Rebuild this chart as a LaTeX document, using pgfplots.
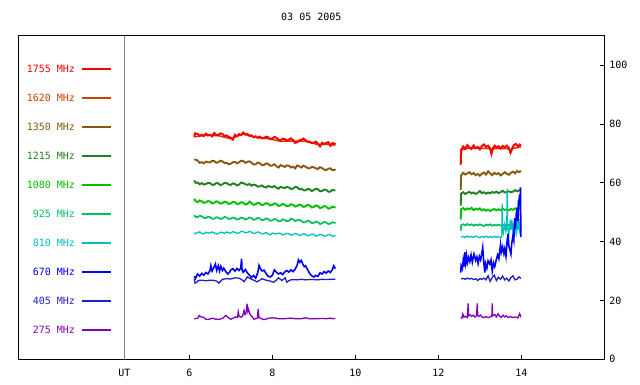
\documentclass[border=0pt]{standalone}
\usepackage{fontspec}
\setmainfont{DejaVu Sans Mono}
\usepackage{pgfplots}
\pgfplotsset{compat=1.18}
\definecolor{c1755}{RGB}{255,0,0}
\definecolor{c1620}{RGB}{204,64,0}
\definecolor{c1350}{RGB}{136,90,16}
\definecolor{c1215}{RGB}{34,128,34}
\definecolor{c1080}{RGB}{0,192,0}
\definecolor{c925}{RGB}{0,192,96}
\definecolor{c810}{RGB}{0,192,192}
\definecolor{c670}{RGB}{0,0,255}
\definecolor{c405}{RGB}{32,32,192}
\definecolor{c275}{RGB}{128,0,192}
\begin{document}
\begin{tikzpicture}
\begin{axis}[
  name=ax, scale only axis, width=586pt, height=323.6pt,
  xmin=1.88, xmax=16, ymin=0, ymax=110,
  unbounded coords=jump,
  font=\fontsize{10}{12}\selectfont,
  /pgf/number format/assume math mode=true,
  axis line style={line width=0.8pt},
  xtick={6,8,10,12,14}, xtick pos=bottom,
  ytick={0,20,40,60,80,100}, ytick pos=right, yticklabel pos=right,
  tick align=inside, major tick length=4.5pt,
  tick style={black, line width=0.8pt},
  xticklabel style={yshift=-6pt},
  yticklabel style={xshift=1.5pt},
  extra x ticks={4.434}, extra x tick labels={UT},
  extra x tick style={grid=major, major grid style={gray, line width=1pt}, major tick length=0pt},
  title={03 05 2005},
  title style={at={(0.5,1)}, anchor=center, yshift=12.4pt, inner sep=0pt},
  legend plot pos=right,
  legend image code/.code={\fill[#1] (0pt,-0.65pt) rectangle (28.7pt,0.65pt);},
  legend style={draw=none, fill=none, inner sep=0pt, outer sep=0pt,
    at={(axis cs:4.107,100.04)}, anchor=north east,
    row sep={29pt,between origins}, column sep=6.7pt,
    nodes={inner sep=0pt, text height=7pt, text depth=0pt},
    font=\fontsize{10}{12}\selectfont},
  legend cell align=right,
]
\addlegendimage{color=c1755}\addlegendentry{\textcolor{c1755}{1755 MHz}}
\addlegendimage{color=c1620}\addlegendentry{\textcolor{c1620}{1620 MHz}}
\addlegendimage{color=c1350}\addlegendentry{\textcolor{c1350}{1350 MHz}}
\addlegendimage{color=c1215}\addlegendentry{\textcolor{c1215}{1215 MHz}}
\addlegendimage{color=c1080}\addlegendentry{\textcolor{c1080}{1080 MHz}}
\addlegendimage{color=c925}\addlegendentry{\textcolor{c925}{925 MHz}}
\addlegendimage{color=c810}\addlegendentry{\textcolor{c810}{810 MHz}}
\addlegendimage{color=c670}\addlegendentry{\textcolor{c670}{670 MHz}}
\addlegendimage{color=c405}\addlegendentry{\textcolor{c405}{405 MHz}}
\addlegendimage{color=c275}\addlegendentry{\textcolor{c275}{275 MHz}}

% 1620 MHz (mostly hidden under 1755)
\addplot[c1620, line width=1.5pt, forget plot] coordinates {
(6.12,75.6)(6.4,76.2)(6.7,76.0)(7.0,75.0)(7.3,76.6)(7.6,75.4)(7.9,75.0)(8.2,74.1)(8.5,74.2)(8.8,74.1)(9.1,73.0)(9.3,73.1)(9.52,72.8)
(11,nan)
(12.54,66.0)(12.56,71.2)(12.75,71.8)(12.95,71.8)(13.25,71.6)(13.28,69.6)(13.31,71.6)(13.5,71.6)(13.7,71.6)(13.74,70.0)(13.78,71.6)(13.99,72.2)};
% 1755 MHz
\addplot[c1755, line width=2pt, forget plot] coordinates {
(6.12,75.6)(6.14,76.8)(6.2,76.6)(6.25,76.0)(6.3,76.3)(6.35,75.9)(6.4,76.7)(6.45,76.1)(6.5,76.3)(6.55,75.8)(6.6,76.9)(6.65,76.2)(6.7,76.2)(6.75,76.8)(6.8,76.6)(6.85,75.9)(6.9,76.1)(6.95,75.6)(7.0,75.3)(7.05,74.7)(7.1,76.3)(7.15,75.8)(7.2,76.5)(7.25,76.2)(7.3,77.1)(7.35,76.4)(7.4,76.6)(7.45,76.0)(7.5,76.1)(7.55,75.5)(7.6,75.8)(7.65,75.3)(7.7,75.7)(7.75,75.1)(7.8,75.2)(7.85,75.7)(7.9,75.5)(7.95,74.9)(8.0,75.0)(8.05,75.6)(8.1,75.3)(8.15,74.6)(8.2,74.4)(8.25,75.0)(8.3,74.9)(8.35,74.3)(8.4,74.7)(8.45,75.1)(8.5,74.5)(8.55,73.6)(8.6,73.8)(8.65,74.4)(8.7,74.6)(8.75,75.0)(8.8,74.5)(8.85,74.0)(8.9,74.0)(8.95,73.5)(9.0,73.6)(9.05,74.0)(9.1,73.3)(9.15,72.4)(9.2,73.6)(9.25,73.2)(9.3,73.5)(9.35,73.8)(9.4,72.6)(9.45,73.5)(9.5,73.3)(9.52,73.0)
(11,nan)
(12.54,66.4)(12.55,71.2)(12.6,72.3)(12.65,71.6)(12.7,72.8)(12.75,72.0)(12.8,71.5)(12.85,72.7)(12.9,71.8)(12.95,72.2)(13.0,71.4)(13.05,72.5)(13.1,73.0)(13.15,72.2)(13.2,72.6)(13.25,71.6)(13.28,70.0)(13.32,71.8)(13.36,72.6)(13.4,72.0)(13.45,72.4)(13.5,71.7)(13.55,72.5)(13.6,72.1)(13.65,72.6)(13.7,71.8)(13.74,70.4)(13.78,71.6)(13.82,72.8)(13.87,73.2)(13.92,72.4)(13.96,73.0)(13.99,72.6)};
% 1350 MHz
\addplot[c1350, line width=1.9pt, forget plot] coordinates {
(6.12,68.0)(6.2,67.6)(6.25,66.8)(6.3,67.0)(6.35,66.6)(6.4,67.2)(6.45,67.0)(6.5,66.9)(6.55,67.5)(6.6,67.4)(6.65,66.8)(6.7,67.0)(6.75,67.5)(6.8,67.3)(6.85,66.7)(6.9,66.8)(6.95,66.3)(7.0,66.5)(7.05,67.0)(7.1,67.1)(7.15,66.6)(7.2,67.0)(7.25,67.5)(7.3,67.4)(7.35,66.8)(7.4,67.1)(7.45,67.3)(7.5,66.8)(7.55,66.2)(7.6,66.3)(7.65,66.9)(7.7,66.6)(7.75,66.1)(7.8,66.0)(7.85,66.6)(7.9,66.4)(7.95,65.8)(8.0,65.9)(8.05,66.3)(8.1,65.6)(8.15,65.2)(8.2,66.0)(8.25,65.7)(8.3,65.4)(8.35,65.9)(8.4,65.8)(8.45,65.2)(8.5,65.5)(8.55,64.9)(8.6,65.9)(8.65,65.6)(8.7,65.2)(8.75,65.8)(8.8,65.5)(8.85,65.0)(8.9,64.9)(8.95,65.4)(9.0,65.3)(9.05,64.9)(9.1,64.7)(9.15,65.3)(9.2,65.0)(9.25,64.5)(9.3,64.3)(9.35,64.8)(9.4,64.9)(9.45,64.3)(9.5,64.4)(9.52,64.7)
(11,nan)
(12.54,57.5)(12.55,62.5)(12.6,63.4)(12.65,62.8)(12.7,63.2)(12.75,63.6)(12.8,62.9)(12.85,63.3)(12.9,62.6)(12.95,63.0)(13.0,62.4)(13.05,63.1)(13.1,63.5)(13.15,62.8)(13.2,63.9)(13.25,63.2)(13.3,62.6)(13.35,63.4)(13.4,62.9)(13.45,63.3)(13.5,62.5)(13.55,63.0)(13.6,63.6)(13.65,63.1)(13.7,62.7)(13.75,63.4)(13.8,63.8)(13.85,63.2)(13.9,64.0)(13.95,63.6)(13.99,64.1)};
% 1215 MHz
\addplot[c1215, line width=1.9pt, forget plot] coordinates {
(6.12,60.8)(6.15,60.0)(6.2,60.1)(6.25,59.5)(6.3,59.9)(6.35,59.4)(6.4,59.6)(6.45,60.0)(6.5,59.9)(6.55,59.3)(6.6,59.4)(6.65,59.9)(6.7,59.8)(6.75,59.2)(6.8,59.5)(6.85,60.0)(6.9,59.9)(6.95,59.4)(7.0,59.3)(7.05,59.8)(7.1,59.6)(7.15,59.1)(7.2,59.4)(7.25,60.1)(7.3,59.9)(7.35,59.5)(7.4,59.3)(7.45,59.6)(7.5,59.0)(7.55,59.4)(7.6,59.2)(7.65,58.7)(7.7,58.8)(7.75,59.1)(7.8,58.6)(7.85,58.4)(7.9,58.9)(7.95,58.7)(8.0,58.5)(8.05,58.9)(8.1,58.3)(8.15,58.0)(8.2,58.6)(8.25,58.4)(8.3,58.2)(8.35,58.6)(8.4,58.4)(8.45,57.9)(8.5,58.0)(8.55,58.6)(8.6,58.5)(8.65,57.8)(8.7,58.0)(8.75,57.5)(8.8,57.4)(8.85,57.9)(8.9,57.8)(8.95,57.2)(9.0,57.5)(9.05,58.0)(9.1,57.8)(9.15,57.1)(9.2,57.2)(9.25,57.7)(9.3,57.6)(9.35,57.0)(9.4,57.0)(9.45,57.6)(9.5,57.4)(9.52,57.5)
(11,nan)
(12.54,52.2)(12.55,56.3)(12.6,56.8)(12.65,56.2)(12.7,56.6)(12.75,56.9)(12.8,56.4)(12.85,56.7)(12.9,56.2)(12.95,56.6)(13.0,57.2)(13.05,56.5)(13.1,56.8)(13.15,56.3)(13.2,56.7)(13.25,56.4)(13.3,56.9)(13.35,56.6)(13.4,57.0)(13.45,56.5)(13.5,56.8)(13.55,57.3)(13.6,56.7)(13.65,56.9)(13.7,57.1)(13.75,56.8)(13.8,57.0)(13.85,57.5)(13.9,57.1)(13.95,57.4)(13.99,57.8)};
% 1080 MHz
\addplot[c1080, line width=1.9pt, forget plot] coordinates {
(6.12,54.6)(6.15,53.8)(6.2,53.4)(6.25,54.0)(6.3,53.7)(6.35,53.2)(6.4,53.3)(6.45,53.8)(6.5,53.6)(6.55,53.0)(6.6,53.2)(6.65,53.7)(6.7,53.5)(6.75,52.9)(6.8,53.1)(6.85,53.6)(6.9,53.4)(6.95,52.8)(7.0,53.0)(7.05,53.5)(7.1,53.4)(7.15,52.8)(7.2,52.9)(7.25,53.4)(7.3,53.2)(7.35,52.6)(7.4,52.8)(7.45,53.6)(7.5,53.1)(7.55,52.5)(7.6,52.7)(7.65,53.2)(7.7,53.0)(7.75,52.4)(7.8,52.6)(7.85,53.1)(7.9,52.9)(7.95,52.3)(8.0,52.5)(8.05,53.0)(8.1,52.8)(8.15,52.1)(8.2,52.3)(8.25,52.8)(8.3,52.6)(8.35,52.0)(8.4,52.2)(8.45,52.7)(8.5,52.5)(8.55,51.9)(8.6,52.1)(8.65,52.6)(8.7,52.4)(8.75,51.8)(8.8,52.0)(8.85,52.5)(8.9,52.3)(8.95,51.6)(9.0,51.8)(9.05,52.3)(9.1,52.1)(9.15,51.4)(9.2,51.6)(9.25,52.1)(9.3,51.9)(9.35,51.2)(9.4,51.4)(9.45,51.9)(9.5,51.7)(9.52,51.5)
(11,nan)
(12.54,47.5)(12.55,51.0)(12.6,51.4)(12.65,50.8)(12.7,51.3)(12.75,51.0)(12.8,51.5)(12.85,50.7)(12.9,51.2)(12.95,50.9)(13.0,51.3)(13.05,50.6)(13.1,51.0)(13.15,50.5)(13.2,50.9)(13.25,50.4)(13.3,50.8)(13.35,51.1)(13.4,50.6)(13.45,51.0)(13.5,50.7)(13.55,51.2)(13.6,50.8)(13.65,51.0)(13.7,50.6)(13.75,51.1)(13.8,50.8)(13.85,51.3)(13.9,51.0)(13.95,51.4)(13.99,51.2)};
% 925 MHz
\addplot[c925, line width=1.7pt, forget plot] coordinates {
(6.12,49.0)(6.15,48.4)(6.2,48.3)(6.25,48.8)(6.3,48.6)(6.35,48.1)(6.4,48.0)(6.45,48.5)(6.5,48.3)(6.55,47.8)(6.6,47.8)(6.65,48.3)(6.7,48.1)(6.75,47.7)(6.8,47.9)(6.85,48.4)(6.9,48.2)(6.95,47.7)(7.0,47.8)(7.05,48.2)(7.1,48.0)(7.15,47.5)(7.2,47.7)(7.25,48.2)(7.3,48.0)(7.35,47.5)(7.4,47.8)(7.45,48.2)(7.5,48.0)(7.55,47.4)(7.6,47.6)(7.65,48.1)(7.7,47.9)(7.75,47.3)(7.8,47.4)(7.85,47.9)(7.9,47.7)(7.95,47.1)(8.0,47.2)(8.05,47.7)(8.1,47.5)(8.15,46.9)(8.2,47.0)(8.25,47.6)(8.3,47.4)(8.35,46.9)(8.4,47.1)(8.45,47.8)(8.5,47.6)(8.55,47.0)(8.6,47.3)(8.65,47.4)(8.7,47.0)(8.75,46.5)(8.8,46.7)(8.85,47.1)(8.9,46.9)(8.95,46.3)(9.0,46.4)(9.05,46.8)(9.1,46.6)(9.15,46.0)(9.2,46.2)(9.25,46.7)(9.3,46.5)(9.35,46.0)(9.4,46.1)(9.45,46.6)(9.5,46.4)(9.52,46.2)
(11,nan)
(12.54,43.7)(12.55,45.6)(12.6,45.9)(12.65,45.5)(12.7,46.0)(12.75,45.6)(12.8,45.9)(12.85,45.4)(12.9,45.8)(12.95,45.5)(13.0,45.9)(13.05,45.6)(13.1,45.3)(13.15,45.8)(13.2,45.5)(13.25,45.9)(13.3,45.4)(13.35,45.7)(13.4,45.5)(13.45,45.8)(13.5,45.4)(13.55,45.7)(13.6,45.5)(13.65,45.9)(13.7,45.6)(13.75,45.8)(13.8,45.5)(13.85,45.9)(13.9,45.6)(13.95,45.8)(13.99,45.7)};
% 810 MHz
\addplot[c810, line width=1.3pt, forget plot] coordinates {
(6.12,43.0)(6.15,42.7)(6.2,43.1)(6.25,43.3)(6.3,42.8)(6.35,42.6)(6.4,43.2)(6.45,43.0)(6.5,42.9)(6.55,43.3)(6.6,43.0)(6.65,42.6)(6.7,42.7)(6.75,43.2)(6.8,43.1)(6.85,42.8)(6.9,43.3)(6.95,43.0)(7.0,42.9)(7.05,43.4)(7.1,43.2)(7.15,42.8)(7.2,43.0)(7.25,43.5)(7.3,43.4)(7.35,43.0)(7.4,43.1)(7.45,43.5)(7.5,43.2)(7.55,42.8)(7.6,42.9)(7.65,43.3)(7.7,43.1)(7.75,42.6)(7.8,42.8)(7.85,43.1)(7.9,42.6)(7.95,42.3)(8.0,42.9)(8.05,42.7)(8.1,42.6)(8.15,42.9)(8.2,42.8)(8.25,42.3)(8.3,42.5)(8.35,42.8)(8.4,42.7)(8.45,42.2)(8.5,42.4)(8.55,42.8)(8.6,42.6)(8.65,42.1)(8.7,42.3)(8.75,42.7)(8.8,42.5)(8.85,42.0)(8.9,42.2)(8.95,42.6)(9.0,42.4)(9.05,41.9)(9.1,42.1)(9.15,42.5)(9.2,42.3)(9.25,41.8)(9.3,42.0)(9.35,42.4)(9.4,42.3)(9.45,41.8)(9.5,42.0)(9.52,42.2)
(11,nan)
(12.55,41.5)(12.6,41.8)(12.65,41.4)(12.7,41.9)(12.75,41.5)(12.8,41.8)(12.85,41.4)(12.9,41.9)(12.95,41.6)(13.0,41.3)(13.05,41.8)(13.1,41.5)(13.15,41.9)(13.2,41.4)(13.25,41.7)(13.3,41.4)(13.35,41.8)(13.4,41.5)(13.45,41.7)(13.5,41.4)(13.53,41.6)(13.54,52.8)(13.55,44.5)(13.57,43.0)(13.6,46.0)(13.63,43.5)(13.65,44.8)(13.66,58.0)(13.67,45.0)(13.7,42.5)(13.73,46.5)(13.75,44.0)(13.77,47.5)(13.8,43.0)(13.83,46.0)(13.85,44.0)(13.87,48.0)(13.89,43.5)(13.91,45.5)(13.92,54.0)(13.93,44.0)(13.95,46.0)(13.97,42.5)(13.99,46.0)};
% 405 MHz
\addplot[c405, line width=1.3pt, forget plot] coordinates {
(6.12,27.3)(6.14,25.9)(6.18,26.2)(6.22,26.8)(6.3,26.9)(6.4,26.7)(6.5,26.9)(6.6,26.8)(6.67,26.5)(6.71,25.9)(6.76,26.6)(6.8,27.2)(6.9,27.4)(7.0,27.3)(7.1,27.7)(7.2,27.6)(7.27,27.0)(7.32,26.4)(7.37,27.4)(7.4,28.0)(7.5,27.2)(7.57,26.8)(7.63,26.3)(7.7,26.9)(7.75,27.4)(7.87,26.8)(7.95,26.6)(8.03,26.2)(8.1,26.9)(8.15,27.7)(8.23,26.8)(8.31,27.7)(8.35,26.2)(8.42,26.9)(8.5,27.1)(8.6,27.0)(8.7,27.2)(8.8,27.0)(8.9,27.1)(9.0,27.1)(9.1,27.0)(9.2,27.2)(9.3,27.1)(9.4,27.2)(9.52,27.2)
(11,nan)
(12.55,27.3)(12.6,27.5)(12.65,27.2)(12.7,27.6)(12.75,27.3)(12.8,27.5)(12.85,27.1)(12.9,27.4)(12.95,26.8)(13.0,27.4)(13.05,27.2)(13.1,27.6)(13.15,27.0)(13.2,28.4)(13.25,26.5)(13.3,27.8)(13.35,28.6)(13.4,26.8)(13.45,27.9)(13.5,27.2)(13.55,28.3)(13.6,27.0)(13.65,27.6)(13.7,26.6)(13.75,27.8)(13.8,28.4)(13.85,27.0)(13.9,27.3)(13.95,28.0)(13.99,27.5)};
% 670 MHz
\addplot[c670, line width=1.6pt, forget plot] coordinates {
(6.12,28.2)(6.15,27.5)(6.2,29.0)(6.25,28.3)(6.3,29.2)(6.35,28.6)(6.4,29.5)(6.45,29.0)(6.5,30.2)(6.52,31.8)(6.55,30.0)(6.6,31.5)(6.63,32.4)(6.66,30.2)(6.7,31.8)(6.73,30.0)(6.76,31.6)(6.8,30.2)(6.83,31.0)(6.88,29.8)(6.93,29.0)(6.97,29.6)(7.0,30.4)(7.05,30.8)(7.1,30.0)(7.15,30.9)(7.2,30.2)(7.24,31.0)(7.26,34.2)(7.27,30.5)(7.3,29.6)(7.35,30.5)(7.4,29.4)(7.45,28.6)(7.5,27.8)(7.55,28.5)(7.6,27.6)(7.65,29.5)(7.68,31.9)(7.72,30.6)(7.76,30.0)(7.8,30.3)(7.85,29.2)(7.9,28.2)(7.95,28.0)(8.0,28.5)(8.05,30.4)(8.1,29.6)(8.15,29.0)(8.2,29.4)(8.25,28.8)(8.3,29.7)(8.35,30.2)(8.4,29.6)(8.45,30.4)(8.5,29.8)(8.55,30.6)(8.6,32.0)(8.63,33.8)(8.66,33.0)(8.7,33.6)(8.73,32.5)(8.77,31.5)(8.8,31.8)(8.85,30.5)(8.9,29.2)(8.95,28.4)(9.0,28.0)(9.05,28.5)(9.1,28.2)(9.15,29.4)(9.2,29.0)(9.25,29.8)(9.3,29.3)(9.35,30.0)(9.4,29.5)(9.45,30.6)(9.48,31.8)(9.52,30.8)
(11,nan)
(12.54,29.5)(12.55,31.8)(12.58,30.8)(12.6,33.5)(12.62,31.5)(12.64,36.4)(12.66,33.0)(12.68,35.2)(12.7,32.8)(12.73,34.6)(12.76,33.2)(12.79,35.5)(12.82,33.0)(12.86,35.8)(12.9,33.6)(12.93,34.8)(12.96,32.6)(12.99,35.0)(13.02,33.8)(13.05,36.2)(13.07,38.0)(13.09,34.0)(13.12,29.5)(13.14,32.5)(13.17,31.0)(13.2,33.5)(13.24,32.4)(13.27,33.8)(13.3,30.0)(13.33,32.8)(13.36,31.5)(13.4,34.0)(13.43,35.5)(13.46,34.2)(13.5,39.0)(13.52,36.5)(13.55,38.2)(13.58,36.0)(13.6,37.5)(13.63,35.0)(13.66,40.5)(13.68,42.7)(13.7,38.5)(13.73,37.0)(13.75,35.8)(13.77,39.5)(13.8,42.0)(13.82,40.5)(13.84,48.0)(13.86,44.5)(13.88,49.5)(13.9,51.6)(13.92,47.0)(13.94,53.5)(13.96,56.0)(13.97,52.0)(13.98,58.4)(13.99,41.5)};
% 275 MHz
\addplot[c275, line width=1.3pt, forget plot] coordinates {
(6.12,13.8)(6.2,13.9)(6.24,14.9)(6.28,14.4)(6.34,14.3)(6.4,13.6)(6.48,13.6)(6.56,14.0)(6.64,13.6)(6.72,13.6)(6.8,13.9)(6.84,14.4)(6.88,14.9)(6.94,14.2)(7.0,13.6)(7.06,14.0)(7.12,14.4)(7.16,14.2)(7.18,16.1)(7.2,14.6)(7.24,14.3)(7.28,14.6)(7.32,16.6)(7.34,15.2)(7.36,15.5)(7.38,16.8)(7.39,18.9)(7.41,16.5)(7.42,17.2)(7.46,15.5)(7.49,14.8)(7.52,14.4)(7.56,13.6)(7.6,13.8)(7.64,14.0)(7.66,17.0)(7.68,14.2)(7.72,13.9)(7.8,13.5)(7.86,13.7)(7.92,14.0)(8.0,14.1)(8.08,14.0)(8.15,13.8)(8.3,13.8)(8.45,14.0)(8.55,13.8)(8.7,13.8)(8.8,14.1)(8.9,13.8)(9.1,13.8)(9.2,13.9)(9.3,13.8)(9.4,14.0)(9.45,13.8)(9.52,13.9)
(11,nan)
(12.54,14.2)(12.57,14.0)(12.59,15.4)(12.62,14.3)(12.66,14.6)(12.7,14.2)(12.72,19.0)(12.73,14.8)(12.76,15.2)(12.8,14.6)(12.84,15.0)(12.88,14.4)(12.92,14.8)(12.94,19.0)(12.95,15.0)(12.98,14.6)(13.02,15.0)(13.06,14.3)(13.1,14.2)(13.15,14.5)(13.2,14.2)(13.25,14.4)(13.29,14.6)(13.3,19.0)(13.31,14.8)(13.36,15.2)(13.4,14.4)(13.44,15.5)(13.48,14.6)(13.52,14.3)(13.56,15.0)(13.6,14.4)(13.64,14.8)(13.68,14.2)(13.74,14.5)(13.8,14.2)(13.86,14.4)(13.92,14.1)(13.96,15.5)(13.99,14.3)};
\end{axis}
\pgfresetboundingbox
\path ([shift={(-18.3pt,-24.7pt)}]ax.south west) rectangle ++(640pt,384pt);
\end{tikzpicture}
\end{document}
